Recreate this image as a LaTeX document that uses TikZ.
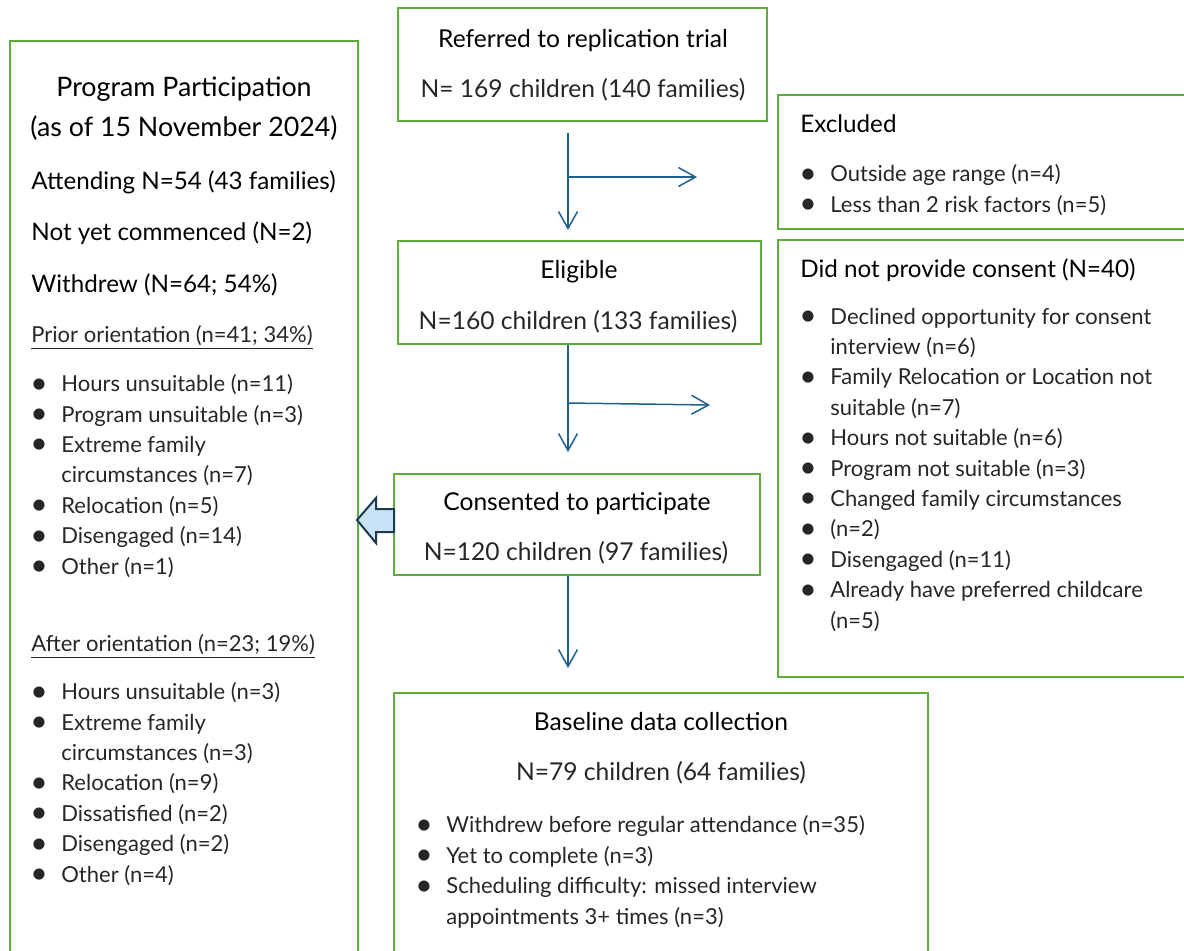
\documentclass[tikz,border=0pt]{standalone}
\usepackage{fontspec}
\setmainfont{Lato}
\usepackage{xcolor}
\usetikzlibrary{arrows.meta, positioning, fit}

\definecolor{boxgreen}{RGB}{96,172,64}
\definecolor{flowblue}{RGB}{31,96,140}
\definecolor{backfill}{RGB}{198,228,245}
\definecolor{backline}{RGB}{28,56,78}

\newcommand{\bul}{\makebox[15.5pt][l]{\raisebox{-0.7pt}{\fontsize{15}{15}\selectfont\textbullet}}}
\newcommand{\ind}{\hspace*{15.5pt}}

\tikzset{
  box/.style={draw=boxgreen, line width=1pt, inner sep=0pt, fit={#1}},
  head/.style={font=\fontsize{12.3}{15}\selectfont, inner sep=0pt, anchor=base},
  num/.style={font=\fontsize{12.3}{15}\selectfont, text=black!85, inner sep=0pt, anchor=base},
  side/.style={font=\fontsize{12.1}{15}\selectfont, inner sep=0pt, anchor=base west},
  lst/.style={font=\fontsize{11}{15.2}\selectfont, text=black!85, inner sep=0pt, anchor=base west, align=left},
  flow/.style={draw=flowblue, line width=0.75pt, -{Straight Barb[length=8.5pt,width=9.5pt]}},
}

\begin{document}
\begin{tikzpicture}[x=0.5pt, y=-0.5pt]
  \clip (0,0) rectangle (1184,950);

  % boxes
  \node[box={(10,41) (358,980)}] (part) {};
  \node[box={(398,8) (767,121)}] (ref) {};
  \node[box={(778,95) (1195,229)}] (excl) {};
  \node[box={(398,241) (761,344)}] (elig) {};
  \node[box={(778,240) (1195,677)}] (nocons) {};
  \node[box={(394,474) (760,575)}] (cons) {};
  \node[box={(394,693) (928,980)}] (base) {};

  % left panel (lists are placed by the baseline of their last line)
  \node[head, font=\fontsize{13.4}{15}\selectfont] (parttitle) at (184,96) {Program Participation};
  \node[head, font=\fontsize{13.4}{15}\selectfont] (partdate) at (184,136) {(as of 15 November 2024)};
  \node[side] (attend) at (31,189) {Attending N=54 (43 families)};
  \node[side] (notyet) at (31,240) {Not yet commenced (N=2)};
  \node[side] (withdrew) at (31,292) {Withdrew (N=64; 54\%)};
  \node[lst] (priorhead) at (31,342) {\underline{Prior orientation (n=41; 34\%)}};
  \node[lst] (prior) at (30,574) {\bul Hours unsuitable (n=11)\\ \bul Program unsuitable (n=3)\\
    \bul Extreme family\\ \ind circumstances (n=7)\\ \bul Relocation (n=5)\\
    \bul Disengaged (n=14)\\ \bul Other (n=1)};
  \node[lst] (afterhead) at (31,651) {\underline{After orientation (n=23; 19\%)}};
  \node[lst] (after) at (30,882) {\bul Hours unsuitable (n=3)\\ \bul Extreme family\\
    \ind circumstances (n=3)\\ \bul Relocation (n=9)\\ \bul Dissatisfied (n=2)\\
    \bul Disengaged (n=2)\\ \bul Other (n=4)};

  % main column
  \node[head] (reftitle) at (583,47) {Referred to replication trial};
  \node[num] (refn) at (583,97) {N= 169 children (140 families)};
  \node[head] (eligtitle) at (579,278) {Eligible};
  \node[num] (eligtn) at (578,329) {N=160 children (133 families)};
  \node[head] (constitle) at (577,510) {Consented to participate};
  \node[num] (consn) at (576,560) {N=120 children (97 families)};
  \node[head] (basetitle) at (661,730) {Baseline data collection};
  \node[num] (basen) at (661,780) {N=79 children (64 families)};
  \node[lst] (baselist) at (415,924) {\bul Withdrew before regular attendance (n=35)\\
    \bul Yet to complete (n=3)\\ \bul Scheduling difficulty: missed interview\\
    \ind appointments 3+ times (n=3)};

  % right column
  \node[side] (excltitle) at (800,132) {Excluded};
  \node[lst] (excllist) at (799,212) {\bul Outside age range (n=4)\\ \bul Less than 2 risk factors (n=5)};
  \node[side] (noconstitle) at (800,277) {Did not provide consent (N=40)};
  \node[lst] (noconslist) at (799,628) {\bul Declined opportunity for consent\\ \ind interview (n=6)\\
    \bul Family Relocation or Location not\\ \ind suitable (n=7)\\ \bul Hours not suitable (n=6)\\
    \bul Program not suitable (n=3)\\ \bul Changed family circumstances\\ \bul (n=2)\\
    \bul Disengaged (n=11)\\ \bul Already have preferred childcare\\ \ind (n=5)};

  % connectors
  \coordinate (down1) at (568,230);
  \coordinate (side1) at (697,177);
  \coordinate (down2) at (568,452);
  \coordinate (fork2) at (568,403);
  \coordinate (side2) at (710,405);
  \coordinate (down3) at (568,668);
  \draw[flow, shorten <=5.5pt] (ref.south -| down1) -- (down1);
  \draw[flow] (down1 |- side1) -- (side1);
  \draw[flow] (elig.south -| down2) -- (down2);
  \draw[flow] (fork2) -- (side2);
  \draw[flow] (cons.south -| down3) -- (down3);

  % back arrow to participation
  \draw[fill=backfill, draw=backline, line width=1pt, line join=miter]
    (357,520) -- (376,498) -- (376,509) -- (394,509) -- (394,532) -- (376,532) -- (376,543) -- cycle;
\end{tikzpicture}
\end{document}
